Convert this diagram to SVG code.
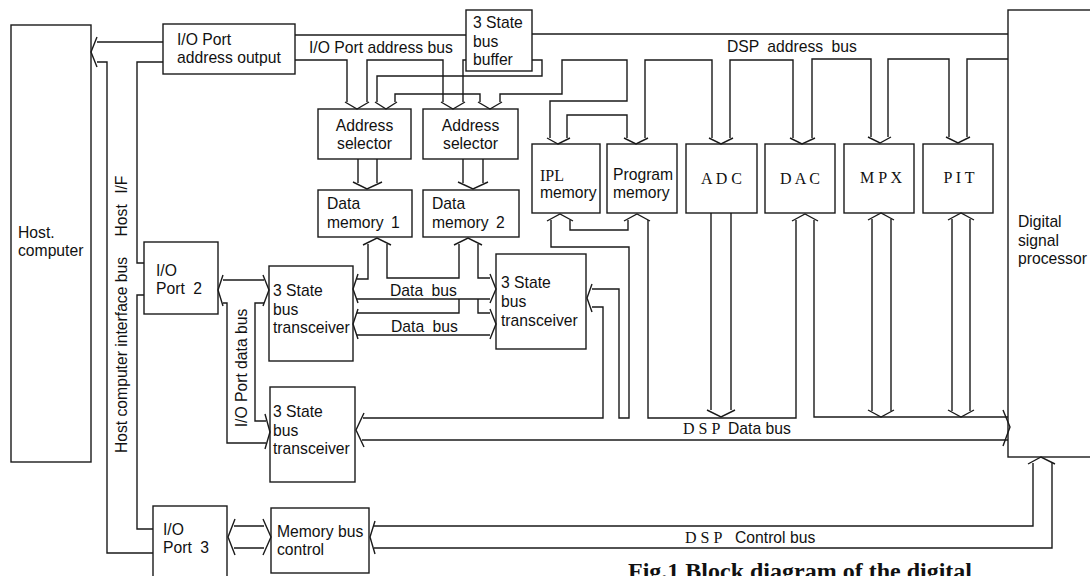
<svg xmlns="http://www.w3.org/2000/svg" width="1090" height="576" viewBox="0 0 1090 576">
<style>
.b{fill:#fff;stroke:#1a1a1a;stroke-width:1.4}
.c path{fill:none;stroke:#1a1a1a;stroke-width:1.4;stroke-linejoin:miter}
text{font-family:"Liberation Sans",Arial,sans-serif;font-size:15.7px;fill:#111}
.s{font-family:"Liberation Serif","Times New Roman",serif;font-size:16px}
.cap{font-family:"Liberation Serif","Times New Roman",serif;font-size:24px;font-weight:bold}
</style>
<rect width="1090" height="576" fill="#fff"/>

<g id="host"><rect class="b" x="11" y="25" width="80" height="437"/><text x="18" y="238">Host.</text><text x="18" y="256">computer</text></g>
<g id="ioaddr"><rect class="b" x="163" y="24" width="132" height="50"/><text x="177" y="45">I/O Port</text><text x="177" y="63">address output</text></g>
<g id="buffer"><rect class="b" x="466" y="10" width="66" height="61"/><text x="473" y="28">3 State</text><text x="473" y="47">bus</text><text x="473" y="65">buffer</text></g>
<g id="as1"><rect class="b" x="318" y="109" width="93" height="50"/><text x="364.5" y="131" text-anchor="middle">Address</text><text x="364.5" y="149" text-anchor="middle">selector</text></g>
<g id="as2"><rect class="b" x="423" y="109" width="95" height="50"/><text x="470.5" y="131" text-anchor="middle">Address</text><text x="470.5" y="149" text-anchor="middle">selector</text></g>
<g id="dm1"><rect class="b" x="318" y="190" width="94" height="47"/><text x="327" y="209">Data</text><text x="327" y="228" style="word-spacing:3px">memory 1</text></g>
<g id="dm2"><rect class="b" x="423" y="190" width="96" height="47"/><text x="432" y="209">Data</text><text x="432" y="228" style="word-spacing:3px">memory 2</text></g>
<g id="ipl"><rect class="b" x="532" y="144" width="68" height="69"/><text class="s" x="540" y="181">IPL</text><text x="540" y="198">memory</text></g>
<g id="prog"><rect class="b" x="607" y="144" width="70" height="69"/><text x="613" y="180">Program</text><text x="613" y="198">memory</text></g>
<g id="adc"><rect class="b" x="686" y="144" width="71" height="69"/><text class="s" x="721.5" y="184" text-anchor="middle">A D C</text></g>
<g id="dac"><rect class="b" x="765" y="144" width="70" height="69"/><text class="s" x="800" y="184" text-anchor="middle">D A C</text></g>
<g id="mpx"><rect class="b" x="844" y="144" width="70" height="69"/><text class="s" x="881" y="183" text-anchor="middle">M P X</text></g>
<g id="pit"><rect class="b" x="923" y="144" width="70" height="69"/><text class="s" x="959" y="183" text-anchor="middle">P I T</text></g>
<g id="dsp"><rect class="b" x="1008" y="10" width="100" height="447"/><text x="1018" y="227">Digital</text><text x="1018" y="246">signal</text><text x="1018" y="264">processor</text></g>
<g id="ioport2"><rect class="b" x="144" y="242" width="74" height="72"/><text x="156" y="276">I/O</text><text x="156" y="294" style="word-spacing:4px">Port 2</text></g>
<g id="trx1"><rect class="b" x="269" y="266" width="84" height="95"/><text x="273" y="296">3 State</text><text x="273" y="315">bus</text><text x="273" y="333">transceiver</text></g>
<g id="trx2"><rect class="b" x="496" y="254" width="90" height="95"/><text x="501" y="288">3 State</text><text x="501" y="307">bus</text><text x="501" y="326">transceiver</text></g>
<g id="trx3"><rect class="b" x="270" y="387" width="85" height="95"/><text x="273" y="417">3 State</text><text x="273" y="436">bus</text><text x="273" y="454">transceiver</text></g>
<g id="ioport3"><rect class="b" x="153" y="506" width="74" height="84"/><text x="163" y="535">I/O</text><text x="163" y="553" style="word-spacing:4px">Port 3</text></g>
<g id="mbc"><rect class="b" x="271" y="508" width="98" height="65"/><text x="277" y="537">Memory bus</text><text x="277" y="555">control</text></g>

<g id="connectors" class="c">
<path d="M97,37 L91,52 L97,67"/>
<path d="M97,42 H163"/>
<path d="M97,62 H107 V553 H153"/>
<path d="M163,62 H137 V263 H144"/>
<path d="M144,295 H137 V529 H153"/>
<path d="M295,35 H466"/>
<path d="M295,60 H347 V102"/>
<path d="M367,102 V60 H443 V102"/>
<path d="M463,102 V60 H466"/>
<path d="M345,102 L357,109 L369,102"/>
<path d="M441,102 L453,109 L465,102"/>
<path d="M532,60 H542 V76 H377 V102"/>
<path d="M395,102 V94 H480 V102"/>
<path d="M500,102 V94 H562 V60 H627 V101 H550 V138"/>
<path d="M375,102 L386,109 L397,102"/>
<path d="M478,102 L490,109 L502,102"/>
<path d="M532,34 H1008"/>
<path d="M567,138 V115 H627 V138"/>
<path d="M645,138 V60 H712 V138"/>
<path d="M730,138 V60 H793 V138"/>
<path d="M812,138 V59 H871 V137"/>
<path d="M888,137 V59 H949 V137"/>
<path d="M967,137 V59 H1008"/>
<path d="M547,138 L558,144 L570,138"/>
<path d="M624,138 L636,144 L648,138"/>
<path d="M709,138 L721,144 L733,138"/>
<path d="M790,138 L802,144 L815,138"/>
<path d="M868,137 L880,143 L891,137"/>
<path d="M946,137 L958,143 L970,137"/>
<path d="M358,159 V183 M377,159 V183"/>
<path d="M353,182 L367,189 L382,182"/>
<path d="M463,159 V183 M483,159 V183"/>
<path d="M458,182 L473,189 L488,182"/>
<path d="M363,245 L377,238 L391,245"/>
<path d="M454,245 L468,238 L482,245"/>
<path d="M368,244 V279 H357"/>
<path d="M387,244 V278 H459 V244"/>
<path d="M478,244 V278 H490"/>
<path d="M357,299 H490"/>
<path d="M357,313 H459 V299"/>
<path d="M478,299 V313 H490"/>
<path d="M357,335 H490"/>
<path d="M358,274 L353,289 L358,303"/>
<path d="M358,309 L353,324 L358,339"/>
<path d="M490,274 L496,289 L490,303"/>
<path d="M490,309 L496,324 L490,339"/>
<path d="M592,284 L587,298 L592,312"/>
<path d="M592,289 H619 V418 H629 V247 H551 V220"/>
<path d="M592,307 H603 V418 H363"/>
<path d="M547,221 L560,214 L573,221"/>
<path d="M570,220 V230 H628 V220"/>
<path d="M624,221 L637,214 L650,221"/>
<path d="M648,220 V418 H796 V220"/>
<path d="M792,221 L805,214 L818,221"/>
<path d="M814,220 V417 H1008"/>
<path d="M711,213 V410 M731,213 V410"/>
<path d="M707,410 L721,417 L735,410"/>
<path d="M872,219 V411 M891,219 V411"/>
<path d="M868,220 L881,213 L894,220"/>
<path d="M868,410 L881,417 L894,410"/>
<path d="M952,219 V411 M970,219 V411"/>
<path d="M948,220 L961,213 L974,220"/>
<path d="M948,410 L961,417 L974,410"/>
<path d="M362,440 H1008"/>
<path d="M1003,410 L1010,427 L1003,446"/>
<path d="M364,413 L356,430 L364,447"/>
<path d="M223,275 L218,290 L223,306"/>
<path d="M223,280 H264"/>
<path d="M223,303 H227 V443 H266"/>
<path d="M264,303 H255 V421 H266"/>
<path d="M263,275 L269,290 L263,306"/>
<path d="M265,414 L270,432 L265,449"/>
<path d="M235,519 L228,537 L235,555"/>
<path d="M234,526 H264 M234,548 H264"/>
<path d="M263,519 L271,537 L263,555"/>
<path d="M375,521 L370,537 L375,554"/>
<path d="M374,526 H1033 V463"/>
<path d="M374,548 H1052 V463"/>
<path d="M1028,464 L1041,457 L1055,464"/>
</g>

<g id="labels">
<text x="309" y="53">I/O Port address bus</text>
<text x="727" y="52" style="word-spacing:4px">DSP address bus</text>
<text x="390" y="296" style="word-spacing:4px">Data bus</text>
<text x="391" y="332" style="word-spacing:4px">Data bus</text>
<text class="s" x="683" y="434" font-size="15">D S P</text><text x="728" y="434">Data bus</text>
<text class="s" x="685" y="543" font-size="15">D S P</text><text x="735" y="543">Control bus</text>
<text x="127" y="355" text-anchor="middle" transform="rotate(-90 127 355)">Host computer interface bus</text>
<text x="127" y="206" text-anchor="middle" transform="rotate(-90 127 206)" style="word-spacing:6px">Host I/F</text>
<text x="247" y="368" text-anchor="middle" transform="rotate(-90 247 368)">I/O Port data bus</text>
<text class="cap" x="628" y="579">Fig.1 Block diagram of the digital</text>
</g>
</svg>
